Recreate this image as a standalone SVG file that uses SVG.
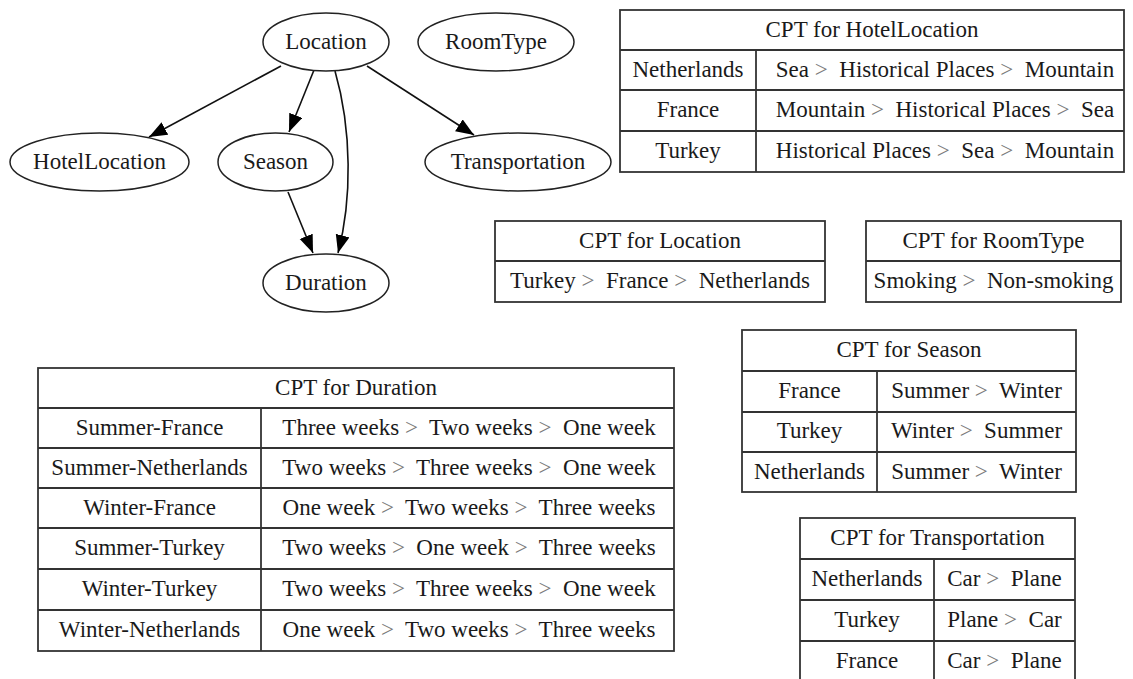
<svg xmlns="http://www.w3.org/2000/svg" width="1133" height="679" viewBox="0 0 1133 679" font-family="'Liberation Serif', 'Times New Roman', Tinos, 'DejaVu Serif', serif">
<style>
text{font-family:'Liberation Serif','Times New Roman',Tinos,'DejaVu Serif',serif;font-size:23px;fill:#1a1a1a;text-anchor:middle;white-space:pre}
.g{fill:#7a7a7a}
ellipse{fill:#fff;stroke:#222;stroke-width:1.5}
.tb rect{fill:#fff;stroke:#333;stroke-width:1.8}
.tb line{stroke:#333;stroke-width:1.8}
.edge{fill:none;stroke:#111;stroke-width:1.6}
</style>
<defs>
<marker id="arr" markerUnits="userSpaceOnUse" markerWidth="20" markerHeight="15" refX="18" refY="7" orient="auto">
<path d="M0,0 L18,7 L0,14 z" fill="#000"/>
</marker>
</defs>
<rect width="1133" height="679" fill="#fff"/>

<g id="connectors">
<path class="edge" d="M281,66 L149,137" marker-end="url(#arr)"/>
<path class="edge" d="M314,70 L289,132" marker-end="url(#arr)"/>
<path class="edge" d="M335,71 C352,130 352,200 338,253" marker-end="url(#arr)"/>
<path class="edge" d="M367,66 L474,135" marker-end="url(#arr)"/>
<path class="edge" d="M288,192 L313,253" marker-end="url(#arr)"/>
</g>

<g id="node-Location"><ellipse cx="326" cy="42" rx="63" ry="29"/><text x="326" y="49">Location</text></g>
<g id="node-RoomType"><ellipse cx="496" cy="42" rx="78" ry="29"/><text x="496" y="49">RoomType</text></g>
<g id="node-HotelLocation"><ellipse cx="99.5" cy="162" rx="89.5" ry="29"/><text x="99.5" y="169">HotelLocation</text></g>
<g id="node-Season"><ellipse cx="275.5" cy="162" rx="57.5" ry="29"/><text x="275.5" y="169">Season</text></g>
<g id="node-Transportation"><ellipse cx="518" cy="162" rx="93" ry="29"/><text x="518" y="169">Transportation</text></g>
<g id="node-Duration"><ellipse cx="326" cy="283" rx="63" ry="29"/><text x="326" y="290">Duration</text></g>

<g id="cpt-HotelLocation" class="tb">
<rect x="620" y="10" width="504" height="162"/>
<line x1="620" y1="50" x2="1124" y2="50"/>
<line x1="620" y1="90" x2="1124" y2="90"/>
<line x1="620" y1="131" x2="1124" y2="131"/>
<line x1="756" y1="50" x2="756" y2="172"/>
<text x="872" y="37">CPT for HotelLocation</text>
<text x="688" y="77">Netherlands</text>
<text x="945" y="77">Sea <tspan class="g">&gt;</tspan>  Historical Places <tspan class="g">&gt;</tspan>  Mountain</text>
<text x="688" y="117">France</text>
<text x="945" y="117">Mountain <tspan class="g">&gt;</tspan>  Historical Places <tspan class="g">&gt;</tspan>  Sea</text>
<text x="688" y="158">Turkey</text>
<text x="945" y="158">Historical Places <tspan class="g">&gt;</tspan>  Sea <tspan class="g">&gt;</tspan>  Mountain</text>
</g>

<g id="cpt-Location" class="tb">
<rect x="495" y="221" width="330" height="81"/>
<line x1="495" y1="261" x2="825" y2="261"/>
<text x="660" y="248">CPT for Location</text>
<text x="660" y="288">Turkey <tspan class="g">&gt;</tspan>  France <tspan class="g">&gt;</tspan>  Netherlands</text>
</g>

<g id="cpt-RoomType" class="tb">
<rect x="866" y="221" width="255" height="81"/>
<line x1="866" y1="261" x2="1121" y2="261"/>
<text x="993.5" y="248">CPT for RoomType</text>
<text x="993.5" y="288">Smoking <tspan class="g">&gt;</tspan>  Non-smoking</text>
</g>

<g id="cpt-Season" class="tb">
<rect x="742" y="330" width="334" height="162"/>
<line x1="742" y1="371" x2="1076" y2="371"/>
<line x1="742" y1="412" x2="1076" y2="412"/>
<line x1="742" y1="452" x2="1076" y2="452"/>
<line x1="877" y1="371" x2="877" y2="492"/>
<text x="909" y="357">CPT for Season</text>
<text x="809.5" y="398">France</text>
<text x="976.5" y="398">Summer <tspan class="g">&gt;</tspan>  Winter</text>
<text x="809.5" y="438">Turkey</text>
<text x="976.5" y="438">Winter <tspan class="g">&gt;</tspan>  Summer</text>
<text x="809.5" y="479">Netherlands</text>
<text x="976.5" y="479">Summer <tspan class="g">&gt;</tspan>  Winter</text>
</g>

<g id="cpt-Transportation" class="tb">
<rect x="800" y="518" width="275" height="164"/>
<line x1="800" y1="559" x2="1075" y2="559"/>
<line x1="800" y1="600" x2="1075" y2="600"/>
<line x1="800" y1="641" x2="1075" y2="641"/>
<line x1="934" y1="559" x2="934" y2="682"/>
<text x="937.5" y="545">CPT for Transportation</text>
<text x="867" y="586">Netherlands</text>
<text x="1004.5" y="586">Car <tspan class="g">&gt;</tspan>  Plane</text>
<text x="867" y="627">Turkey</text>
<text x="1004.5" y="627">Plane <tspan class="g">&gt;</tspan>  Car</text>
<text x="867" y="668">France</text>
<text x="1004.5" y="668">Car <tspan class="g">&gt;</tspan>  Plane</text>
</g>

<g id="cpt-Duration" class="tb">
<rect x="38" y="368" width="636" height="283"/>
<line x1="38" y1="408" x2="674" y2="408"/>
<line x1="38" y1="448" x2="674" y2="448"/>
<line x1="38" y1="488" x2="674" y2="488"/>
<line x1="38" y1="528" x2="674" y2="528"/>
<line x1="38" y1="569" x2="674" y2="569"/>
<line x1="38" y1="610" x2="674" y2="610"/>
<line x1="261" y1="408" x2="261" y2="651"/>
<text x="356" y="395">CPT for Duration</text>
<text x="149.5" y="435">Summer-France</text>
<text x="469" y="435">Three weeks <tspan class="g">&gt;</tspan>  Two weeks <tspan class="g">&gt;</tspan>  One week</text>
<text x="149.5" y="475">Summer-Netherlands</text>
<text x="469" y="475">Two weeks <tspan class="g">&gt;</tspan>  Three weeks <tspan class="g">&gt;</tspan>  One week</text>
<text x="149.5" y="515">Winter-France</text>
<text x="469" y="515">One week <tspan class="g">&gt;</tspan>  Two weeks <tspan class="g">&gt;</tspan>  Three weeks</text>
<text x="149.5" y="555">Summer-Turkey</text>
<text x="469" y="555">Two weeks <tspan class="g">&gt;</tspan>  One week <tspan class="g">&gt;</tspan>  Three weeks</text>
<text x="149.5" y="596">Winter-Turkey</text>
<text x="469" y="596">Two weeks <tspan class="g">&gt;</tspan>  Three weeks <tspan class="g">&gt;</tspan>  One week</text>
<text x="149.5" y="637">Winter-Netherlands</text>
<text x="469" y="637">One week <tspan class="g">&gt;</tspan>  Two weeks <tspan class="g">&gt;</tspan>  Three weeks</text>
</g>
</svg>
